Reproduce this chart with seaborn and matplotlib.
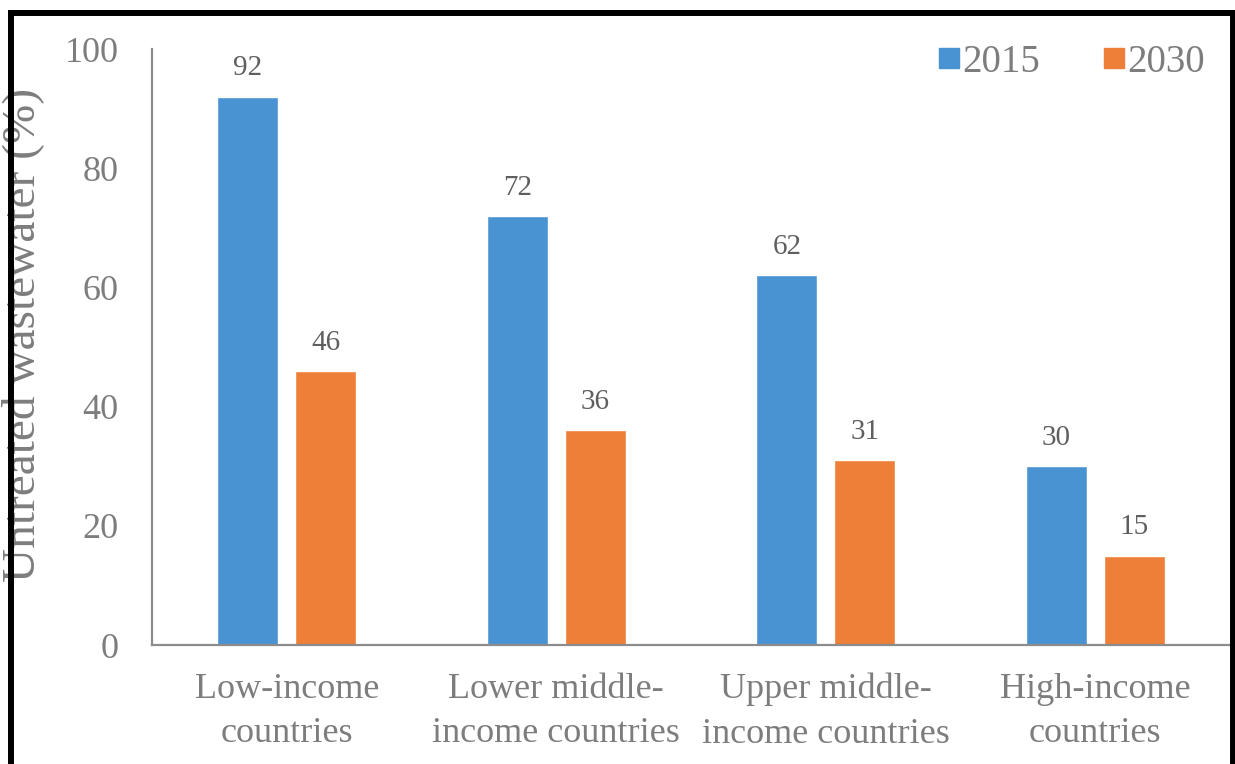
"""
Untreated wastewater by income group, 2015 vs 2030 (grouped bars).
"""

import matplotlib

matplotlib.use("Agg")

import matplotlib.pyplot as plt
import pandas as pd
import seaborn as sns
from matplotlib.lines import Line2D
from matplotlib.patches import Rectangle

categories = [
    "Low-income\ncountries",
    "Lower middle-\nincome countries",
    "Upper middle-\nincome countries",
    "High-income\ncountries",
]
years = ["2015", "2030"]
values_2015 = [92, 72, 62, 30]
values_2030 = [46, 36, 31, 15]
y_ticks = [0, 20, 40, 60, 80, 100]

colors = {"2015": "#4A93D2", "2030": "#ED7F38"}
TEXT = "#7d7d7d"
SPINE = "#8c8c8c"

df = pd.DataFrame(
    {
        "category": categories * 2,
        "year": [years[0]] * len(categories) + [years[1]] * len(categories),
        "value": values_2015 + values_2030,
    }
)

sns.set_style("white")
plt.rcParams["font.family"] = ["Liberation Serif", "DejaVu Serif"]

W, H = 1235, 764
fig = plt.figure(figsize=(W / 100, H / 100), dpi=100)
ax = fig.add_axes([152 / W, 1 - 645 / H, (1230 - 152) / W, (645 - 49) / H])

sns.barplot(
    data=df,
    x="category",
    y="value",
    hue="year",
    palette=colors,
    width=0.578,
    gap=0.22,
    saturation=1,
    ax=ax,
    legend=False,
)

for container in ax.containers:
    ax.bar_label(container, padding=11, fontsize=21, color="#5f5f5f")

ax.set_xlim(-0.5, len(categories) - 0.5)
ax.set_ylim(0, 100)
ax.set_yticks(y_ticks)
ax.set_xlabel("")
ax.set_ylabel("Untreated wastewater (%)", fontsize=34, color=TEXT)
ax.yaxis.set_label_coords((44 - 152) / 1078, (645 - 335) / 596)
ax.tick_params(axis="y", length=0, pad=24, labelsize=26, labelcolor=TEXT)
ax.tick_params(axis="x", length=0, pad=20, labelsize=26, labelcolor=TEXT)
for lbl in ax.get_xticklabels():
    lbl.set_linespacing(1.45)

for side in ("top", "right"):
    ax.spines[side].set_visible(False)
for side in ("left", "bottom"):
    ax.spines[side].set_color(SPINE)
    ax.spines[side].set_linewidth(1.6)

handles = [
    Line2D([], [], marker="s", linestyle="none", markersize=14,
           markerfacecolor=colors[y], markeredgecolor=colors[y])
    for y in years
]
leg = ax.legend(
    handles, years, loc="upper right", bbox_to_anchor=(0.9915, 1.035),
    ncol=2, frameon=False, fontsize=28, handlelength=0.6,
    handletextpad=0.05, columnspacing=1.6, borderaxespad=0,
)
for t in leg.get_texts():
    t.set_color(TEXT)

# black frame around the picture (bottom edge is cut off)
fig.add_artist(
    Rectangle(
        (10.5 / W, -0.05), (1232.5 - 10.5) / W, 1.05 - 12.5 / H,
        transform=fig.transFigure, fill=False, edgecolor="black",
        linewidth=4.3, zorder=10,
    )
)

fig.savefig("out.png", dpi=100)
